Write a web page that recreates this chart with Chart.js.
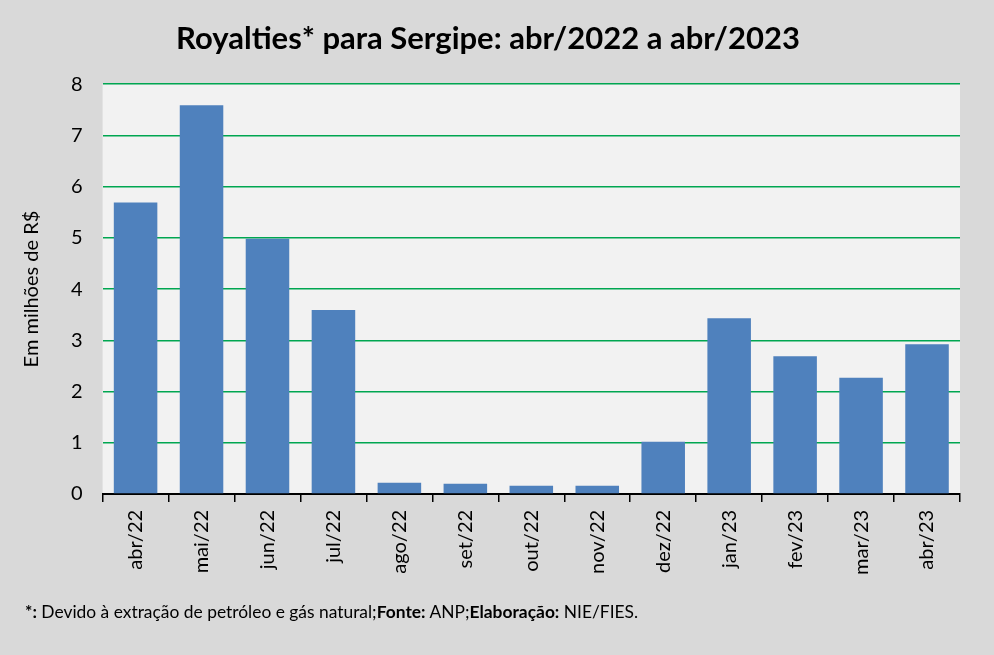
<!DOCTYPE html>
<html>
<head>
<meta charset="utf-8">
<script src="https://cdn.jsdelivr.net/npm/chart.js@4"></script>
<style>
  html, body { margin: 0; padding: 0; background: #d9d9d9; }
  #wrap { position: relative; width: 994px; height: 655px; }
  #nota { position: absolute; left: 25px; top: 601px; font-family: Lato, 'Open Sans', sans-serif; font-size: 17.4px; color: #000; }
</style>
</head>
<body>
<div id="wrap">
  <canvas id="canvas" width="994" height="655"></canvas>
  <div id="nota"><b>*:</b> Devido à extração de petróleo e gás natural;<b>Fonte:</b> ANP;<b>Elaboração:</b> NIE/FIES.</div>
</div>
<script>
const meses = ['abr/22','mai/22','jun/22','jul/22','ago/22','set/22','out/22','nov/22','dez/22','jan/23','fev/23','mar/23','abr/23']
const royalties = [5.69, 7.59, 4.98, 3.59, 0.22, 0.20, 0.16, 0.16, 1.02, 3.43, 2.69, 2.27, 2.92]
const yTicks = [0,1,2,3,4,5,6,7,8]

// fundo cinza claro da área do gráfico
const fundoPlot = {
  id: 'fundoPlot',
  beforeDraw(chart) {
    const {ctx, chartArea} = chart
    ctx.save()
    ctx.fillStyle = '#f2f2f2'
    ctx.fillRect(chartArea.left, chartArea.top, chartArea.right - chartArea.left, chartArea.bottom - chartArea.top)
    ctx.restore()
  }
}

const data = {
  labels: meses,
  datasets: [
    {
      label: 'Royalties',
      backgroundColor: '#4f81bd',
      data: royalties,
      categoryPercentage: 0.66,
      barPercentage: 1,
    },
  ],
}

const config = {
  type: 'bar',
  data: data,
  plugins: [fundoPlot],
  options: {
    responsive: false,
    animation: false,
    layout: { padding: { left: 16, right: 34, bottom: 72, top: 0 } },
    plugins: {
      legend: { display: false },
      tooltip: { enabled: false },
      title: {
        display: true,
        text: 'Royalties* para Sergipe: abr/2022 a abr/2023',
        color: '#000',
        font: { family: 'Lato', size: 31, weight: 'bold' },
        padding: { top: 20, bottom: 27 },
      },
    },
    scales: {
      x: {
        grid: { drawOnChartArea: false, color: '#000', tickLength: 8, lineWidth: 1.5 },
        border: { color: '#000', width: 2 },
        ticks: { color: '#000', font: { family: 'Lato', size: 20 }, maxRotation: 90, minRotation: 90, padding: 8 },
      },
      y: {
        min: 0,
        max: 8,
        afterBuildTicks(axis) { axis.ticks = yTicks.map(v => ({ value: v })) },
        grid: { color: '#00a651', lineWidth: 1.5, drawTicks: false },
        border: { display: false },
        ticks: { color: '#000', font: { family: 'Lato', size: 20 }, padding: 20 },
        title: {
          display: true,
          text: 'Em milhões de R$',
          color: '#000',
          font: { family: 'Lato', size: 20 },
          padding: { bottom: 7 },
        },
      },
    },
  },
}

const canvas = document.getElementById('canvas')
const chart = new Chart(canvas, config)
</script>
</body>
</html>
